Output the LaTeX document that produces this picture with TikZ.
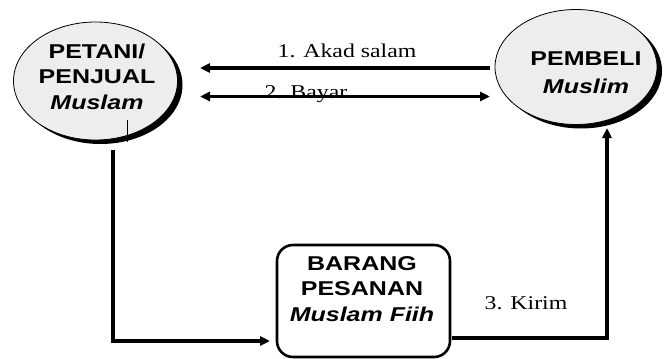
\documentclass[tikz,border=0pt]{standalone}
\usepackage{fontspec}
\setmainfont{Liberation Serif}
\newfontfamily\nodefont[FakeStretch=1.25]{Liberation Sans}
\newfontfamily\labfont[FakeStretch=1.22]{Liberation Serif}
\usetikzlibrary{shapes.geometric,shadows,arrows.meta}
\tikzset{
  bubble/.style={ellipse, draw=black, line width=0.8pt, fill=black!7, inner sep=0pt,
    drop shadow={shadow xshift=5pt, shadow yshift=-4pt, fill=black, opacity=1}},
  goodsbox/.style={rectangle, rounded corners=16pt, draw=black, line width=2.6pt, fill=white, inner sep=0pt},
  nodetext/.style={align=center, inner sep=0pt, font=\nodefont\bfseries\fontsize{20}{25.5}\selectfont},
  flow/.style={line width=3.2pt, -{Triangle[length=10pt,width=9pt]}},
  flowboth/.style={line width=3.2pt, {Triangle[length=10pt,width=9pt]}-{Triangle[length=10pt,width=9pt]}},
  lab/.style={anchor=base, inner sep=0pt, font=\labfont\fontsize{19.5}{22}\selectfont}
}
\begin{document}
\begin{tikzpicture}[x=1pt,y=-1pt]
\useasboundingbox[fill=white] (0,0) rectangle (665,359);
% nodes
\node[bubble, minimum width=164pt, minimum height=118pt] (petani) at (95.5,81) {};
\node[nodetext] (petanitxt) at (97,76.5) {PETANI/\\PENJUAL\\\itshape Muslam};
\node[bubble, minimum width=162pt, minimum height=115pt] (pembeli) at (576,67) {};
\node[nodetext, font=\nodefont\bfseries\fontsize{20}{28}\selectfont] (pembelitxt) at (586,72.5) {PEMBELI\\\itshape Muslim};
\node[goodsbox, minimum width=173pt, minimum height=112pt] (barang) at (363.5,301) {};
\node[nodetext] (barangtxt) at (362,289) {BARANG\\PESANAN\\\itshape Muslam Fiih};
% thin stroke inside the left bubble
\coordinate (t1) at (127,120);
\coordinate (t2) at (127,142);
\draw[line width=0.8pt] (t1) -- (t2);
% connector end points
\coordinate (a1s) at (490,68);
\coordinate (a1e) at (200,68);
\coordinate (a2s) at (200,96.5);
\coordinate (a2e) at (490,96.5);
\coordinate (c1s) at (113,150);
\coordinate (c1e) at (270,341);
\coordinate (c2s) at (452,338);
\coordinate (c2e) at (607,128);
% connectors
\draw[flow] (a1s) -- (a1e);
\draw[flowboth] (a2s) -- (a2e);
\draw[flow] (c1s) |- (c1e);
\draw[flow] (c2s) -| (c2e);
% labels
\node[lab] (l1) at (347,57) {1. Akad salam};
\node[lab] (l2) at (306,98) {2. Bayar};
\node[lab] (l3) at (526,309) {3. Kirim};
\end{tikzpicture}
\end{document}
